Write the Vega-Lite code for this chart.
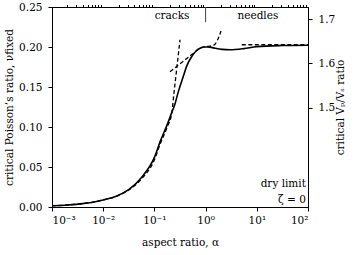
{
  "$schema": "https://vega.github.io/schema/vega-lite/v6.json",
  "width": 256,
  "height": 200,
  "autosize": {"type": "none"},
  "padding": {"left": 52, "top": 7, "right": 46, "bottom": 48},
  "background": "white",
  "config": {
    "view": {"stroke": "black", "strokeWidth": 1},
    "axis": {
      "labelFont": "DejaVu Serif", "labelFontSize": 10.5, "labelColor": "black",
      "titleFont": "DejaVu Serif", "titleFontSize": 10.5, "titleFontWeight": "normal", "titleColor": "black",
      "domainColor": "black", "tickColor": "black", "grid": false, "tickSize": 4, "labelPadding": 4, "labelOverlap": false
    },
    "text": {"font": "DejaVu Serif", "fontSize": 10.5, "color": "black"}
  },
  "datasets": {
    "solid": [
      {"alpha": 0.001, "nu": 0.0015}, {"alpha": 0.002, "nu": 0.0025}, {"alpha": 0.004, "nu": 0.0042},
      {"alpha": 0.007, "nu": 0.0065}, {"alpha": 0.01, "nu": 0.0088}, {"alpha": 0.018, "nu": 0.0135},
      {"alpha": 0.032, "nu": 0.022}, {"alpha": 0.056, "nu": 0.037}, {"alpha": 0.1, "nu": 0.062},
      {"alpha": 0.13, "nu": 0.082}, {"alpha": 0.178, "nu": 0.103}, {"alpha": 0.218, "nu": 0.118},
      {"alpha": 0.25, "nu": 0.128}, {"alpha": 0.29, "nu": 0.143}, {"alpha": 0.366, "nu": 0.163},
      {"alpha": 0.433, "nu": 0.177}, {"alpha": 0.536, "nu": 0.188}, {"alpha": 0.65, "nu": 0.195},
      {"alpha": 0.78, "nu": 0.1985}, {"alpha": 0.93, "nu": 0.2}, {"alpha": 1.11, "nu": 0.2},
      {"alpha": 1.3, "nu": 0.1995}, {"alpha": 1.53, "nu": 0.1985}, {"alpha": 2.1, "nu": 0.197},
      {"alpha": 3.0, "nu": 0.1965}, {"alpha": 5.6, "nu": 0.198}, {"alpha": 10, "nu": 0.2005},
      {"alpha": 31, "nu": 0.2018}, {"alpha": 100, "nu": 0.2022}
    ],
    "dashed": [
      {"s": "a", "alpha": 0.001, "nu": 0.0015}, {"s": "a", "alpha": 0.002, "nu": 0.0025},
      {"s": "a", "alpha": 0.004, "nu": 0.0042}, {"s": "a", "alpha": 0.007, "nu": 0.0065},
      {"s": "a", "alpha": 0.01, "nu": 0.0088}, {"s": "a", "alpha": 0.018, "nu": 0.0133},
      {"s": "a", "alpha": 0.032, "nu": 0.0215}, {"s": "a", "alpha": 0.056, "nu": 0.035},
      {"s": "a", "alpha": 0.1, "nu": 0.059}, {"s": "a", "alpha": 0.13, "nu": 0.079},
      {"s": "a", "alpha": 0.178, "nu": 0.1}, {"s": "a", "alpha": 0.218, "nu": 0.117},
      {"s": "a", "alpha": 0.2415, "nu": 0.143}, {"s": "a", "alpha": 0.2644, "nu": 0.165},
      {"s": "a", "alpha": 0.2891, "nu": 0.187}, {"s": "a", "alpha": 0.3162, "nu": 0.209},
      {"s": "b", "alpha": 0.2018, "nu": 0.169}, {"s": "b", "alpha": 0.346, "nu": 0.181},
      {"s": "b", "alpha": 0.575, "nu": 0.192}, {"s": "b", "alpha": 0.778, "nu": 0.1985},
      {"s": "b", "alpha": 1.02, "nu": 0.2005}, {"s": "b", "alpha": 1.334, "nu": 0.2015},
      {"s": "b", "alpha": 1.527, "nu": 0.2035}, {"s": "b", "alpha": 1.745, "nu": 0.21},
      {"s": "b", "alpha": 2.0, "nu": 0.22},
      {"s": "c", "alpha": 5.1, "nu": 0.2028}, {"s": "c", "alpha": 100, "nu": 0.2028}
    ],
    "divider": [{"alpha": 1, "nu": 0.231, "nu2": 0.25}],
    "centerText": [
      {"alpha": 0.221, "nu": 0.2356, "label": "cracks"},
      {"alpha": 10.5, "nu": 0.2356, "label": "needles"}
    ],
    "rightText": [
      {"alpha": 91, "nu": 0.0246, "label": "dry limit"},
      {"alpha": 91, "nu": 0.0046, "label": "ζ = 0"}
    ]
  },
  "resolve": {"scale": {"y": "independent"}, "axis": {"y": "independent"}},
  "layer": [
    {
      "resolve": {"axis": {"x": "independent"}},
      "layer": [
        {
          "data": {"name": "solid"},
          "mark": {"type": "line", "color": "black", "strokeWidth": 1.6, "interpolate": "monotone"},
          "encoding": {
            "x": {"field": "alpha", "type": "quantitative",
              "scale": {"type": "log", "domain": [0.001, 100], "nice": false},
              "axis": {"values": [0.001, 0.01, 0.1, 1, 10, 100], "title": "aspect ratio, α",
                "titleY": 38, "titleBaseline": "alphabetic", "labelOverlap": false,
                "labelExpr": "datum.value < 0.005 ? '10⁻³' : datum.value < 0.05 ? '10⁻²' : datum.value < 0.5 ? '10⁻¹' : datum.value < 5 ? '10⁰' : datum.value < 50 ? '10¹' : '10²'"}},
            "y": {"field": "nu", "type": "quantitative", "scale": {"domain": [0, 0.25], "nice": false}, "axis": null}
          }
        },
        {
          "data": {"name": "dashed"},
          "mark": {"type": "line", "color": "black", "strokeWidth": 1.3, "strokeDash": [4, 2.5], "interpolate": "monotone"},
          "encoding": {
            "x": {"field": "alpha", "type": "quantitative", "axis": null},
            "y": {"field": "nu", "type": "quantitative", "axis": null},
            "detail": {"field": "s"}
          }
        },
        {
          "data": {"name": "divider"},
          "mark": {"type": "rule", "color": "#444", "strokeWidth": 1},
          "encoding": {
            "x": {"field": "alpha", "type": "quantitative", "axis": null},
            "y": {"field": "nu", "type": "quantitative", "axis": null},
            "y2": {"field": "nu2"}
          }
        },
        {
          "data": {"name": "centerText"},
          "mark": {"type": "text", "align": "center", "baseline": "alphabetic"},
          "encoding": {
            "x": {"field": "alpha", "type": "quantitative", "axis": null},
            "y": {"field": "nu", "type": "quantitative", "axis": null},
            "text": {"field": "label"}
          }
        },
        {
          "data": {"name": "rightText"},
          "mark": {"type": "text", "align": "right", "baseline": "alphabetic"},
          "encoding": {
            "x": {"field": "alpha", "type": "quantitative", "axis": null},
            "y": {"field": "nu", "type": "quantitative", "axis": null},
            "text": {"field": "label"}
          }
        },
        {
          "mark": {"type": "rule", "opacity": 0},
          "encoding": {
            "x": {"datum": 1, "type": "quantitative",
              "axis": {"values": [0.002,0.003,0.004,0.005,0.006,0.007,0.008,0.009,0.02,0.03,0.04,0.05,0.06,0.07,0.08,0.09,0.2,0.3,0.4,0.5,0.6,0.7,0.8,0.9,2,3,4,5,6,7,8,9,20,30,40,50,60,70,80,90],
                "labels": false, "domain": false, "tickSize": 2.5, "title": null}}
          }
        }
      ]
    },
    {
      "mark": {"type": "rule", "opacity": 0},
      "encoding": {
        "y": {"datum": 0.1, "type": "quantitative", "scale": {"domain": [0, 0.25], "nice": false},
          "axis": {"orient": "left", "values": [0, 0.05, 0.1, 0.15, 0.2, 0.25], "format": ".2f", "labelPadding": 6,
            "titleX": -43, "titleY": 100, "titleAngle": 270, "titleBaseline": "middle", "titleAlign": "center",
            "title": "critical Poisson’s ratio, νfixed"}}
      }
    },
    {
      "mark": {"type": "rule", "opacity": 0},
      "encoding": {
        "y": {"datum": 1.6, "type": "quantitative", "scale": {"domain": [1.2753, 1.7278], "nice": false},
          "axis": {"orient": "right", "values": [1.5, 1.6, 1.7], "format": ".1f", "labelPadding": 6,
            "title": "critical Vₚ/Vₛ ratio", "titleAngle": 270, "titleX": 32, "titleY": 100,
            "titleBaseline": "middle", "titleAlign": "center"}}
      }
    }
  ]
}
